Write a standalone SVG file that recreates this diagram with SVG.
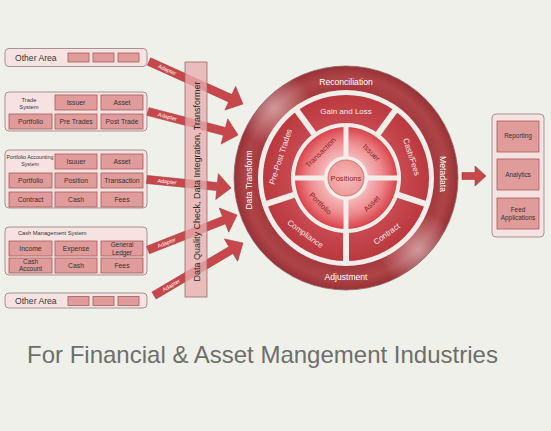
<svg xmlns="http://www.w3.org/2000/svg" width="551" height="431" viewBox="0 0 551 431">
<defs>
<style>
text{font-family:"Liberation Sans",Arial,sans-serif}
.box{fill:#f6e3e1;stroke:#a39393;stroke-width:1}
.cell{fill:#e09b9b;stroke:#a85a5a;stroke-width:0.8}
.ct{font-size:6.8px;fill:#333;text-anchor:middle}
.ct2{font-size:6.4px;fill:#333;text-anchor:middle}
.lbl{fill:#333}
.arrow{fill:#c8474a;stroke:#a33a3c;stroke-width:0.6}
.ad{font-size:5.5px;fill:#fff;text-anchor:middle}
.wt{fill:#fff;font-size:8.6px;text-anchor:middle}
.st{fill:#fbe9e9;font-size:8px;text-anchor:middle}
.dt{fill:#8a1f25;font-size:7.6px;text-anchor:middle}
.gap{stroke:#f3ece8;stroke-linecap:butt}
</style>
<radialGradient id="ringG" gradientUnits="userSpaceOnUse" cx="346" cy="178" r="112">
<stop offset="0.78" stop-color="#a5393d"/>
<stop offset="0.9" stop-color="#ad4548"/>
<stop offset="1" stop-color="#983035"/>
</radialGradient>
<radialGradient id="hl" cx="0.5" cy="0.5" r="0.5">
<stop offset="0" stop-color="#ffffff" stop-opacity="0.45"/>
<stop offset="1" stop-color="#ffffff" stop-opacity="0"/>
</radialGradient>
<radialGradient id="secG" gradientUnits="userSpaceOnUse" cx="346" cy="178" r="83">
<stop offset="0.66" stop-color="#c8494f"/>
<stop offset="1" stop-color="#b9393f"/>
</radialGradient>
<radialGradient id="inG" gradientUnits="userSpaceOnUse" cx="346" cy="178" r="51">
<stop offset="0.35" stop-color="#f7c4c4"/>
<stop offset="0.7" stop-color="#ee8d90"/>
<stop offset="1" stop-color="#d9434b"/>
</radialGradient>
<radialGradient id="posG" gradientUnits="userSpaceOnUse" cx="346" cy="178" r="18">
<stop offset="0" stop-color="#f7bcbc"/>
<stop offset="1" stop-color="#ee9a9a"/>
</radialGradient>
<clipPath id="ringClip">
<path clip-rule="evenodd" d="M234,178a112,112 0 1 0 224,0a112,112 0 1 0 -224,0ZM258,178a88,88 0 1 0 176,0a88,88 0 1 0 -176,0Z"/>
</clipPath>
</defs>
<rect width="551" height="431" fill="#f0f0eb"/>

<g id="other-area-1">
<rect class="box" x="5" y="48.5" width="142" height="18" rx="4"/>
<text class="lbl" x="15" y="60.5" font-size="8.6">Other Area</text>
<rect class="cell" x="68" y="53" width="21" height="9"/>
<rect class="cell" x="93" y="53" width="21" height="9"/>
<rect class="cell" x="118" y="53" width="21" height="9"/>
</g>

<g id="trade-system">
<rect class="box" x="5" y="92" width="142" height="39" rx="4"/>
<text class="lbl" x="29" y="101.5" font-size="5.8" text-anchor="middle">Trade</text>
<text class="lbl" x="29" y="108.5" font-size="5.8" text-anchor="middle">System</text>
<rect class="cell" x="55" y="95" width="42" height="15"/><text class="ct" x="76" y="104.9">Issuer</text>
<rect class="cell" x="101" y="95" width="42" height="15"/><text class="ct" x="122" y="104.9">Asset</text>
<rect class="cell" x="9" y="114" width="43" height="15"/><text class="ct" x="30.5" y="123.9">Portfolio</text>
<rect class="cell" x="55" y="114" width="42" height="15"/><text class="ct" x="76" y="123.9">Pre Trades</text>
<rect class="cell" x="101" y="114" width="42" height="15"/><text class="ct" x="122" y="123.9">Post Trade</text>
</g>

<g id="portfolio-accounting">
<rect class="box" x="5" y="150" width="142" height="58" rx="4"/>
<text class="lbl" x="30" y="159.3" font-size="5.3" text-anchor="middle">Portfolio Accounting</text>
<text class="lbl" x="30" y="166" font-size="5.3" text-anchor="middle">System</text>
<rect class="cell" x="55" y="154" width="42" height="15"/><text class="ct" x="76" y="163.9">Isuuer</text>
<rect class="cell" x="101" y="154" width="42" height="15"/><text class="ct" x="122" y="163.9">Asset</text>
<rect class="cell" x="9" y="173" width="43" height="15"/><text class="ct" x="30.5" y="182.9">Portfolio</text>
<rect class="cell" x="55" y="173" width="42" height="15"/><text class="ct" x="76" y="182.9">Position</text>
<rect class="cell" x="101" y="173" width="42" height="15"/><text class="ct" x="122" y="182.9">Transaction</text>
<rect class="cell" x="9" y="192" width="43" height="15"/><text class="ct" x="30.5" y="201.9">Contract</text>
<rect class="cell" x="55" y="192" width="42" height="15"/><text class="ct" x="76" y="201.9">Cash</text>
<rect class="cell" x="101" y="192" width="42" height="15"/><text class="ct" x="122" y="201.9">Fees</text>
</g>

<g id="cash-management">
<rect class="box" x="5" y="227" width="142" height="48" rx="4"/>
<text class="lbl" x="18" y="235" font-size="5.7">Cash Management System</text>
<rect class="cell" x="9" y="241" width="43" height="15"/><text class="ct" x="30.5" y="250.9">Income</text>
<rect class="cell" x="55" y="241" width="42" height="15"/><text class="ct" x="76" y="250.9">Expense</text>
<rect class="cell" x="101" y="241" width="42" height="15"/><text class="ct2" x="122" y="246.6">General</text><text class="ct2" x="122" y="254.6">Ledger</text>
<rect class="cell" x="9" y="258" width="43" height="15"/><text class="ct2" x="30.5" y="263.5">Cash</text><text class="ct2" x="30.5" y="271.3">Account</text>
<rect class="cell" x="55" y="258" width="42" height="15"/><text class="ct" x="76" y="267.9">Cash</text>
<rect class="cell" x="101" y="258" width="42" height="15"/><text class="ct" x="122" y="267.9">Fees</text>
</g>

<g id="other-area-2">
<rect class="box" x="5" y="293" width="142" height="15" rx="4"/>
<text class="lbl" x="15" y="304" font-size="8.6">Other Area</text>
<rect class="cell" x="68" y="296.5" width="21" height="9"/>
<rect class="cell" x="93" y="296.5" width="21" height="9"/>
<rect class="cell" x="118" y="296.5" width="21" height="9"/>
</g>

<g id="connectors">
<polygon class="arrow" points="147.35,65.15 228.59,101.88 224.88,110.08 243,104 235.6,86.38 231.89,94.59 150.65,57.86"/>
<text class="ad" transform="translate(167.2,69.7) rotate(24.3)" y="1.9">Adapter</text>
<polygon class="arrow" points="146.99,115.37 223.44,135.33 221.17,144.04 238,135 227.73,118.88 225.46,127.59 149.01,107.63"/>
<text class="ad" transform="translate(167.4,116.6) rotate(14.6)" y="1.9">Adapter</text>
<polygon class="arrow" points="146.6,183.48 216.67,190.57 215.76,199.52 231,188 218.38,173.66 217.47,182.61 147.4,175.52"/>
<text class="ad" transform="translate(166.9,181.5) rotate(5.8)" y="1.9">Adapter</text>
<polygon class="arrow" points="149.46,253.72 225.43,223.84 228.73,232.22 237,215 219.21,208.02 222.51,216.4 146.54,246.28"/>
<text class="ad" transform="translate(166.6,242.7) rotate(-21.5)" y="1.9">Adapter</text>
<polygon class="arrow" points="156.03,298.95 232.97,253.56 237.55,261.31 243,243 224.34,238.91 228.91,246.67 151.97,292.06"/>
<text class="ad" transform="translate(171.2,285.3) rotate(-30.5)" y="1.9">Adapter</text>
<polygon class="arrow" points="462,172.5 475,172.5 475,166 486,176 475,186 475,179.5 462,179.5"/>
</g>

<g id="integration-bar">
<rect x="185" y="62" width="22" height="235" fill="#e8aeae" fill-opacity="0.78" stroke="#9a6a6a" stroke-width="0.8"/>
<text transform="translate(200,181.5) rotate(-90)" font-size="9" fill="#2a2a2a" text-anchor="middle">Data Quality Check, Data Integration, Transformer</text>
</g>

<g id="core-wheel">
<circle cx="346" cy="178" r="88" fill="#f3ece8"/>
<path fill="url(#ringG)" fill-rule="evenodd" d="M234,178a112,112 0 1 0 224,0a112,112 0 1 0 -224,0ZM258,178a88,88 0 1 0 176,0a88,88 0 1 0 -176,0Z"/>
<g clip-path="url(#ringClip)">
<circle cx="274" cy="108" r="38" fill="url(#hl)"/>
<circle cx="418" cy="250" r="38" fill="url(#hl)"/>
</g>
<circle cx="346" cy="178" r="112" fill="none" stroke="#8e6a6a" stroke-width="0.8"/>
<path fill="url(#secG)" fill-rule="evenodd" d="M263,178a83,83 0 1 0 166,0a83,83 0 1 0 -166,0ZM291,178a55,55 0 1 0 110,0a55,55 0 1 0 -110,0Z"/>
<g class="gap" stroke-width="6">
<line x1="375.4" y1="137.55" x2="396.55" y2="108.43"/>
<line x1="393.56" y1="193.45" x2="427.79" y2="204.57"/>
<line x1="346" y1="228" x2="346" y2="264"/>
<line x1="298.44" y1="193.45" x2="264.21" y2="204.57"/>
<line x1="316.6" y1="137.55" x2="295.45" y2="108.43"/>
</g>
<circle cx="346" cy="178" r="51" fill="url(#inG)"/>
<g class="gap" stroke-width="5">
<line x1="294" y1="178" x2="398" y2="178"/>
<line x1="346" y1="126" x2="346" y2="230"/>
</g>
<circle cx="346" cy="178" r="22" fill="#f3ece8"/>
<circle cx="346" cy="178" r="18" fill="url(#posG)" stroke="#c8676a" stroke-width="0.8"/>
<text class="wt" x="346" y="85">Reconciliation</text>
<text class="wt" x="346" y="280">Adjustment</text>
<text class="wt" transform="translate(252,180) rotate(-90)">Data Transform</text>
<text class="wt" transform="translate(440,174) rotate(90)">Metadata</text>
<text class="st" x="346" y="114">Gain and Loss</text>
<text class="st" transform="translate(411.6,156.7) rotate(72)" y="2.8">Cash/Fees</text>
<text class="st" transform="translate(386.6,233.8) rotate(-36)" y="2.8">Contract</text>
<text class="st" transform="translate(305.4,233.8) rotate(36)" y="2.8">Compliance</text>
<text class="st" transform="translate(280.4,156.7) rotate(-72)" y="2.8">Pre-Post Trades</text>
<text class="dt" transform="translate(320.5,152.5) rotate(-45)" y="2.7">Transaction</text>
<text class="dt" transform="translate(371.5,152.5) rotate(45)" y="2.7">Issuer</text>
<text class="dt" transform="translate(371.5,203.5) rotate(-45)" y="2.7">Asset</text>
<text class="dt" transform="translate(320.5,203.5) rotate(45)" y="2.7">Portfolio</text>
<text class="dt" x="346" y="180.6" font-size="7">Positions</text>
</g>

<g id="outputs">
<rect class="box" x="492" y="114" width="52" height="123" rx="4"/>
<rect class="cell" x="497" y="121" width="42" height="31"/><text class="ct2" x="518" y="138.3">Reporting</text>
<rect class="cell" x="497" y="159" width="42" height="31"/><text class="ct2" x="518" y="177.3">Analytics</text>
<rect class="cell" x="497" y="198" width="42" height="31"/><text class="ct2" x="518" y="211.5">Feed</text><text class="ct2" x="518" y="220">Applications</text>
</g>

<g id="title">
<text x="27" y="362.5" font-size="24" fill="#6e6e6a">For Financial &amp; Asset Mangement Industries</text>
</g>
</svg>
